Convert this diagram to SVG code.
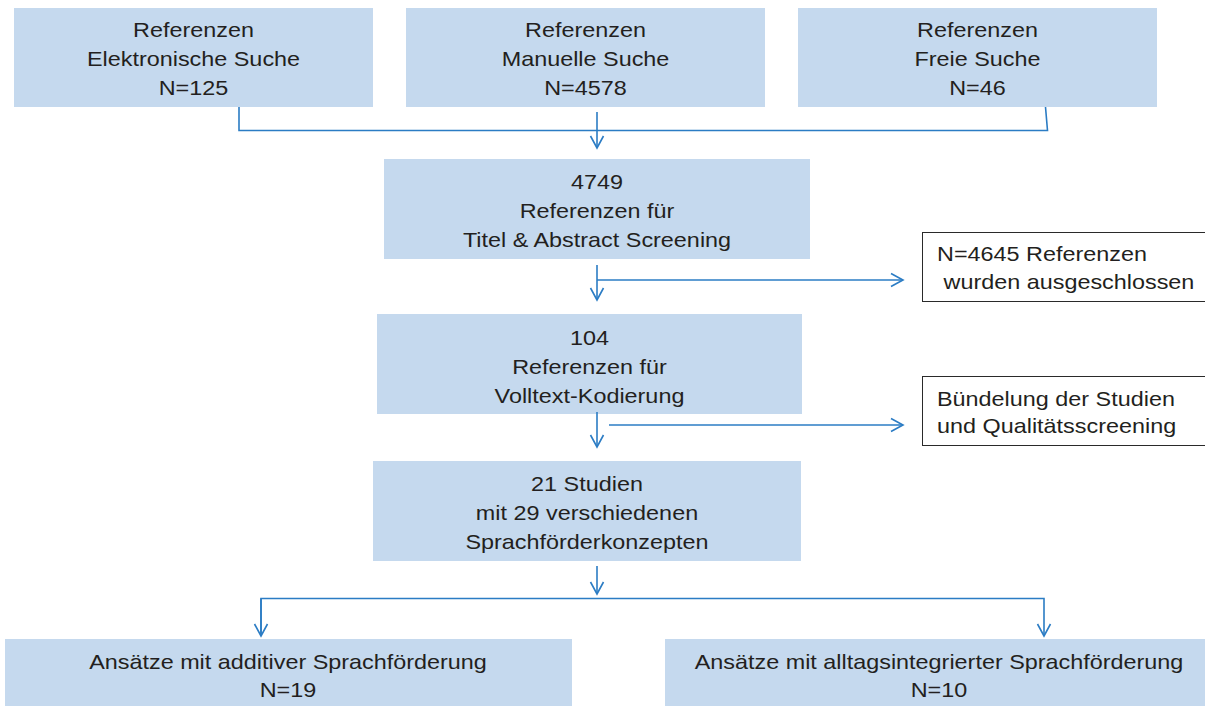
<svg xmlns="http://www.w3.org/2000/svg" width="1205" height="706" viewBox="0 0 1205 706">
<style>
.box{fill:#c5d9ee;stroke:none}
.wbox{fill:#ffffff;stroke:#2a2a2a;stroke-width:1}
.t{font-family:"Liberation Sans",Arial,sans-serif;font-size:21px;fill:#231f20}
.c{text-anchor:middle}
.ln{fill:none;stroke:#2b7cc4;stroke-width:1.6}
</style>
<defs>
<marker id="ah" markerUnits="userSpaceOnUse" markerWidth="16" markerHeight="16" viewBox="-13 -8 15 16" refX="0" refY="0" orient="auto">
<path d="M-12,-6.5 L0,0 L-12,6.5" fill="none" stroke="#2b7cc4" stroke-width="1.6"/>
</marker>
</defs>
<rect width="1205" height="706" fill="#ffffff"/>
<g id="n1"><rect class="box" x="14" y="8" width="359" height="99"/>
<text class="t c" transform="translate(193.5 0) scale(1.114 1)"><tspan x="0" y="37.5">Referenzen</tspan><tspan x="0" y="66.5">Elektronische Suche</tspan><tspan x="0" y="95.5">N=125</tspan></text></g>
<g id="n2"><rect class="box" x="406" y="8" width="359" height="99"/>
<text class="t c" transform="translate(585.5 0) scale(1.114 1)"><tspan x="0" y="37.5">Referenzen</tspan><tspan x="0" y="66.5">Manuelle Suche</tspan><tspan x="0" y="95.5">N=4578</tspan></text></g>
<g id="n3"><rect class="box" x="798" y="8" width="359" height="99"/>
<text class="t c" transform="translate(977.5 0) scale(1.114 1)"><tspan x="0" y="37.5">Referenzen</tspan><tspan x="0" y="66.5">Freie Suche</tspan><tspan x="0" y="95.5">N=46</tspan></text></g>
<g id="n4"><rect class="box" x="384" y="159" width="426" height="100"/>
<text class="t c" transform="translate(597 0) scale(1.114 1)"><tspan x="0" y="189">4749</tspan><tspan x="0" y="218">Referenzen für</tspan><tspan x="0" y="247">Titel &amp; Abstract Screening</tspan></text></g>
<g id="n5"><rect class="wbox" x="922.5" y="232.5" width="290" height="69"/>
<text class="t" transform="translate(937 0) scale(1.114 1)"><tspan x="0" y="261">N=4645 Referenzen</tspan><tspan x="0" y="289" xml:space="preserve"> wurden ausgeschlossen</tspan></text></g>
<g id="n6"><rect class="box" x="377" y="314" width="425" height="100"/>
<text class="t c" transform="translate(589.5 0) scale(1.114 1)"><tspan x="0" y="345">104</tspan><tspan x="0" y="374">Referenzen für</tspan><tspan x="0" y="403">Volltext-Kodierung</tspan></text></g>
<g id="n7"><rect class="wbox" x="922.5" y="376.5" width="290" height="69"/>
<text class="t" transform="translate(937 0) scale(1.114 1)"><tspan x="0" y="406">Bündelung der Studien</tspan><tspan x="0" y="433">und Qualitätsscreening</tspan></text></g>
<g id="n8"><rect class="box" x="373" y="461" width="428" height="100"/>
<text class="t c" transform="translate(587 0) scale(1.114 1)"><tspan x="0" y="491.5">21 Studien</tspan><tspan x="0" y="520.5">mit 29 verschiedenen</tspan><tspan x="0" y="549.5">Sprachförderkonzepten</tspan></text></g>
<g id="n9"><rect class="box" x="5" y="639" width="567" height="67"/>
<text class="t c" transform="translate(288 0) scale(1.114 1)"><tspan x="0" y="669">Ansätze mit additiver Sprachförderung</tspan><tspan x="0" y="697">N=19</tspan></text></g>
<g id="n10"><rect class="box" x="665" y="639" width="540" height="67"/>
<text class="t c" transform="translate(939 0) scale(1.114 1)"><tspan x="0" y="669">Ansätze mit alltagsintegrierter Sprachförderung</tspan><tspan x="0" y="697">N=10</tspan></text></g>
<g id="connectors">
<path class="ln" d="M239,107 V130.5 H1047.5 L1045.5,107"/>
<path class="ln" d="M597,112 V148" marker-end="url(#ah)"/>
<path class="ln" d="M597,265 V300" marker-end="url(#ah)"/>
<path class="ln" d="M597,280 H903" marker-end="url(#ah)"/>
<path class="ln" d="M597,412 V447" marker-end="url(#ah)"/>
<path class="ln" d="M609,425 H903" marker-end="url(#ah)"/>
<path class="ln" d="M597,566 V594" marker-end="url(#ah)"/>
<path class="ln" d="M261,636 V598.5 H1044 V636" marker-end="url(#ah)"/>
<path class="ln" d="M261,598.5 V636" marker-end="url(#ah)"/>
</g>
</svg>
